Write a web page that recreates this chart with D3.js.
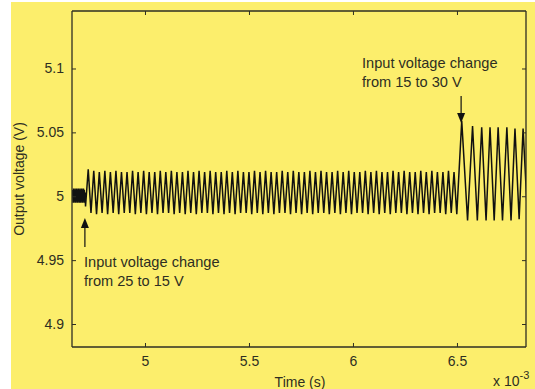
<!DOCTYPE html>
<html>
<head>
<meta charset="utf-8">
<script src="https://cdn.jsdelivr.net/npm/d3@7"></script>
<style>
  body { margin: 0; background: #fff; }
  svg { display: block; }
  text { font-family: "Liberation Sans", Arial, sans-serif; fill: #2e2e22; }
</style>
</head>
<body>
<div id="chart"></div>
<script>
// time axis in ms (x 10^-3 s), voltage in V
const xTicks = [5, 5.5, 6, 6.5];
const yTicks = [4.9, 4.95, 5, 5.05, 5.1];

// small ripple before the first input change
const preT = [4.652, 4.654, 4.656, 4.658, 4.660, 4.662, 4.664, 4.666, 4.668, 4.670,
    4.672, 4.674, 4.676, 4.678, 4.680, 4.682, 4.684, 4.686, 4.688, 4.690,
    4.692, 4.694, 4.696, 4.698, 4.700, 4.702, 4.704, 4.706, 4.708, 4.710, 4.712];
const preV = [5.005, 4.995, 5.006, 4.995, 5.005, 4.996, 5.006, 4.995, 5.005, 4.996,
    5.006, 4.995, 5.005, 4.995, 5.006, 4.996, 5.005, 4.995, 5.006, 4.995,
    5.005, 4.996, 5.006, 4.995, 5.005, 4.995, 5.006, 4.996, 5.005, 4.995, 5.003];

// oscillation after 25 -> 15 V (one peak and one trough per cycle)
const midStart = 4.727;
const midPeriod = 0.02665;
const midPeakV = [5.021, 5.020, 5.019, 5.020, 5.019, 5.020, 5.019, 5.019, 5.020, 5.019,
    5.020, 5.019, 5.019, 5.020, 5.019, 5.020, 5.019, 5.019, 5.020, 5.019,
    5.020, 5.019, 5.020, 5.019, 5.019, 5.020, 5.019, 5.020, 5.019, 5.019,
    5.020, 5.019, 5.020, 5.019, 5.019, 5.020, 5.019, 5.020, 5.019, 5.019,
    5.020, 5.019, 5.020, 5.019, 5.019, 5.020, 5.019, 5.020, 5.019, 5.019,
    5.020, 5.019, 5.020, 5.019, 5.019, 5.020, 5.019, 5.020, 5.019, 5.019,
    5.020, 5.019, 5.020, 5.019, 5.019, 5.020, 5.019];
const midTroughV = [4.987, 4.986, 4.987, 4.986, 4.987, 4.986, 4.987, 4.987, 4.986, 4.987,
    4.986, 4.987, 4.986, 4.987, 4.987, 4.986, 4.987, 4.986, 4.987, 4.986,
    4.987, 4.987, 4.986, 4.987, 4.986, 4.987, 4.986, 4.987, 4.987, 4.986,
    4.987, 4.986, 4.987, 4.986, 4.987, 4.987, 4.986, 4.987, 4.986, 4.987,
    4.986, 4.987, 4.987, 4.986, 4.987, 4.986, 4.987, 4.986, 4.987, 4.987,
    4.986, 4.987, 4.986, 4.987, 4.986, 4.987, 4.987, 4.986, 4.987, 4.986,
    4.987, 4.986, 4.987, 4.987, 4.986, 4.987, 4.986];

// oscillation after 15 -> 30 V
const rightPeakT = [6.523, 6.575, 6.619, 6.659, 6.698, 6.740, 6.779, 6.818];
const rightPeakV = [5.059, 5.055, 5.054, 5.054, 5.054, 5.054, 5.053, 5.053];
const rightTroughT = [6.551, 6.598, 6.640, 6.679, 6.719, 6.760, 6.799, 6.840];
const rightTroughV = [4.981, 4.981, 4.981, 4.981, 4.981, 4.981, 4.982, 4.982];

const W = 535, H = 389;
const x = d3.scaleLinear().domain([4.649, 6.832]).range([72, 526]);
const y = d3.scaleLinear().domain([4.882, 5.145]).range([347, 11]);

const svg = d3.select("#chart").append("svg").attr("width", W).attr("height", H);

// yellow figure background
svg.append("rect").attr("x", 11).attr("y", 2).attr("width", W - 11).attr("height", H - 2)
    .attr("fill", "#fcee6c");

// build turning points of the waveform
const pts = [];
preT.forEach((t, i) => pts.push([t, preV[i]]));
pts.push([4.714, 4.992]);
midPeakV.forEach((v, i) => {
    pts.push([midStart + i * midPeriod, v]);
    pts.push([midStart + (i + 0.5) * midPeriod, midTroughV[i]]);
});
rightPeakT.forEach((t, i) => {
    pts.push([t, rightPeakV[i]]);
    pts.push([rightTroughT[i], rightTroughV[i]]);
});

svg.append("clipPath").attr("id", "clip").append("rect")
    .attr("x", x.range()[0]).attr("y", y.range()[1])
    .attr("width", x.range()[1] - x.range()[0]).attr("height", y.range()[0] - y.range()[1]);

const line = d3.line().x((d) => x(d[0])).y((d) => y(d[1]));

svg.append("path")
    .datum(pts)
    .attr("clip-path", "url(#clip)")
    .attr("fill", "none")
    .attr("stroke", "#111")
    .attr("stroke-width", 1.5)
    .attr("stroke-linejoin", "miter")
    .attr("d", line);

// axes box with inward ticks (all four sides)
const axisColor = "#2e2e22";
const gB = svg.append("g").attr("transform", `translate(0,${y.range()[0]})`)
    .call(d3.axisBottom(x).tickValues(xTicks).tickSize(-4).tickPadding(9).tickFormat(d3.format("")));
const gT = svg.append("g").attr("transform", `translate(0,${y.range()[1]})`)
    .call(d3.axisTop(x).tickValues(xTicks).tickSize(-4).tickFormat(""));
const gL = svg.append("g").attr("transform", `translate(${x.range()[0]},0)`)
    .call(d3.axisLeft(y).tickValues(yTicks).tickSize(-4).tickPadding(8).tickFormat(d3.format("")));
const gR = svg.append("g").attr("transform", `translate(${x.range()[1]},0)`)
    .call(d3.axisRight(y).tickValues(yTicks).tickSize(-4).tickFormat(""));

[gB, gT, gL, gR].forEach((g) => {
    g.select(".domain").attr("stroke", axisColor).attr("stroke-width", 1.3)
        .attr("d", g === gB || g === gT ? `M${x.range()[0]},0H${x.range()[1]}` : `M0,${y.range()[1]}V${y.range()[0]}`);
    g.selectAll(".tick line").attr("stroke", axisColor);
    g.selectAll(".tick text").attr("font-size", 14).attr("fill", axisColor)
        .attr("font-family", "Liberation Sans, Arial, sans-serif");
});

// axis labels
svg.append("text").attr("x", 300).attr("y", 387).attr("text-anchor", "middle")
    .attr("font-size", 14).text("Time (s)");
svg.append("text").attr("transform", "translate(24,179) rotate(-90)").attr("text-anchor", "middle")
    .attr("font-size", 14).text("Output voltage (V)");
const exp = svg.append("text").attr("x", 493).attr("y", 386).attr("font-size", 14);
exp.append("tspan").text("x 10");
exp.append("tspan").attr("dy", -7).attr("font-size", 11).text("-3");

// annotations
function arrow(x0, yFrom, yTip) {
    const dir = yTip < yFrom ? 1 : -1;
    svg.append("line").attr("x1", x0).attr("x2", x0).attr("y1", yFrom).attr("y2", yTip + dir * 6)
        .attr("stroke", "#111").attr("stroke-width", 1.2);
    svg.append("path")
        .attr("d", `M${x0},${yTip}L${x0 - 4},${yTip + dir * 10}L${x0 + 4},${yTip + dir * 10}Z`)
        .attr("fill", "#111");
}

arrow(x(4.711), 247, 218);
const a1 = svg.append("text").attr("font-size", 14.6);
a1.append("tspan").attr("x", 84).attr("y", 267).text("Input voltage change");
a1.append("tspan").attr("x", 84).attr("y", 286).text("from 25 to 15 V");

arrow(x(6.52), 96, 123);
const a2 = svg.append("text").attr("font-size", 14.6);
a2.append("tspan").attr("x", 362).attr("y", 68).text("Input voltage change");
a2.append("tspan").attr("x", 362).attr("y", 87).text("from 15 to 30 V");
</script>
</body>
</html>
